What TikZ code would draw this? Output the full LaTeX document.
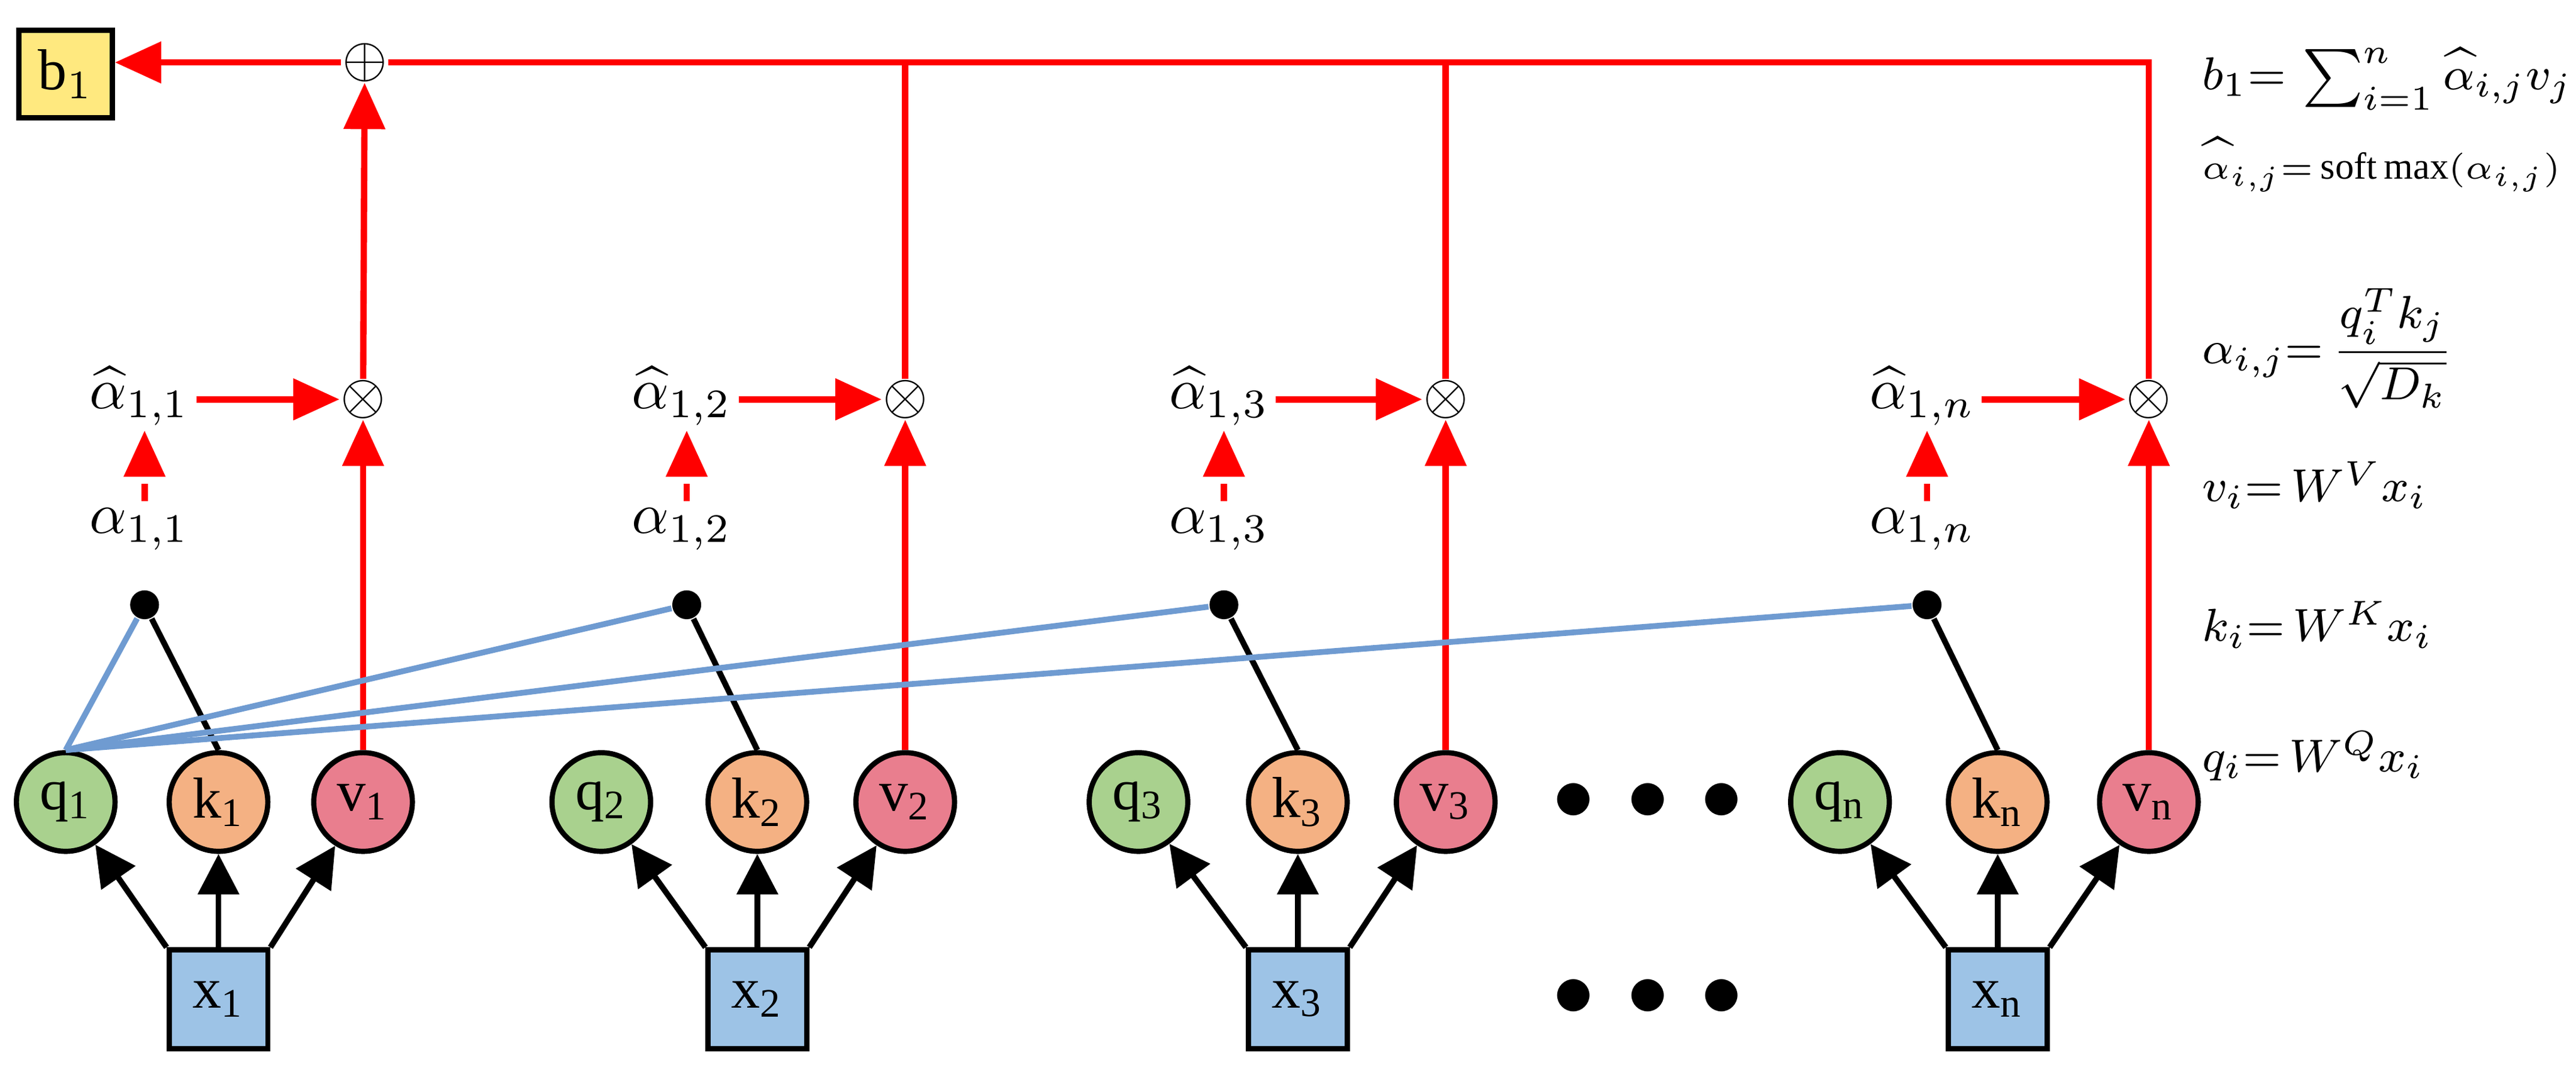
\documentclass[tikz,border=0pt]{standalone}
\usepackage{fontspec}
\setmainfont{Liberation Serif}
\usetikzlibrary{arrows.meta}
\begin{document}
\begin{tikzpicture}[x=0.01cm,y=-0.01cm,
 cir/.style={circle,draw,line width=0.9pt,minimum size=0.6cm,inner sep=0pt},
 box/.style={draw,line width=0.9pt,minimum size=0.6cm,inner sep=0pt},
 blk/.style={line width=1pt,-{Triangle[length=7pt,width=7pt]}},
 red/.style={draw=red,line width=1.1pt},
 rar/.style={red,-{Triangle[length=8pt,width=7pt]},color=red},
 dot/.style={circle,fill=black,inner sep=0pt,minimum size=5pt},
 op/.style={inner sep=0pt}]
\useasboundingbox (0,0) rectangle (1568,649);
\definecolor{qc}{HTML}{A9D18E}\definecolor{kc}{HTML}{F4B183}\definecolor{vc}{HTML}{E97E8E}
\definecolor{xc}{HTML}{9DC3E6}\definecolor{bc}{HTML}{FFE97F}\definecolor{lb}{HTML}{6F9BD1}
\foreach \i/\xq/\xk/\xv/\s in {1/40/133/221/1,2/366/461/551/2,3/693/790/880/3,4/1120/1216/1308/n}{
 \node[box,fill=xc] (x\i) at (\xk,608) {x$_{\mathrm{\s}}$};
 \node[cir,fill=qc] (q\i) at (\xq,488) {q$_{\mathrm{\s}}$};
 \node[cir,fill=kc] (k\i) at (\xk,488) {k$_{\mathrm{\s}}$};
 \node[cir,fill=vc] (v\i) at (\xv,488) {v$_{\mathrm{\s}}$};
 \draw[blk] (x\i.north west) -- (q\i);
 \draw[blk] (x\i) -- (k\i);
 \draw[blk] (x\i.north east) -- (v\i);
 \node[op] (m\i) at (\xv,243) {$\otimes$};
 \draw[rar] (v\i) -- (m\i);
}
\foreach \i/\xa/\s in {1/88/1,2/418/2,3/745/3,4/1173/n}{
 \node[dot] (d\i) at (\xa,368) {};
 \node[inner sep=1pt] (a\i) at (\xa-3,322) {$\alpha_{1,\s}$};
 \node[inner sep=1pt] (h\i) at (\xa-3,241) {$\widehat{\alpha}_{1,\s}$};
 \coordinate (s\i) at (\xa,305);
 \draw[rar,dash pattern=on 3pt off 2pt] (s\i) -- (\xa,262);
 \draw[rar] (m\i.west -| h\i.east) -- (m\i.west);
 \draw[line width=1pt] (k\i.north) -- (d\i);
 \draw[lb,line width=1pt] (q1.north) -- (d\i);
}
\node[op] (p) at (222,38) {$\oplus$};
\node[draw,line width=0.9pt,fill=bc,minimum size=0.52cm] (b) at (40,45) {b$_1$};
\draw[rar] (m1) -- (p);
\draw[rar] (p) -- (p -| b.east);
\draw[red] (p.east) -- (1308,38) coordinate (c4) -- (m4);
\draw[red] (551,38) -- (m2);
\draw[red] (880,38) -- (m3);
\node[font=\Large] at (1003,488) {$\bullet\,\bullet\,\bullet$};
\node[font=\Large] at (1003,607) {$\bullet\,\bullet\,\bullet$};
\begin{scope}[every node/.style={anchor=west,font=\footnotesize,inner sep=0pt}]
\node at (1340,48) {$b_1{=}\,\sum_{i=1}^{n}\widehat{\alpha}_{i,j}v_j$};
\node[font=\fontsize{6.5}{7}\selectfont] at (1340,100) {$\widehat{\alpha}_{i,j}{=}\,\mathrm{soft\,max}(\alpha_{i,j})$};
\node at (1340,212) {$\alpha_{i,j}{=}\,\displaystyle\frac{q_i^Tk_j}{\sqrt{D_k}}$};
\node at (1340,295) {$v_i{=}\,W^Vx_i$};
\node at (1340,380) {$k_i{=}\,W^Kx_i$};
\node at (1340,460) {$q_i{=}\,W^Qx_i$};
\end{scope}
\end{tikzpicture}
\end{document}
